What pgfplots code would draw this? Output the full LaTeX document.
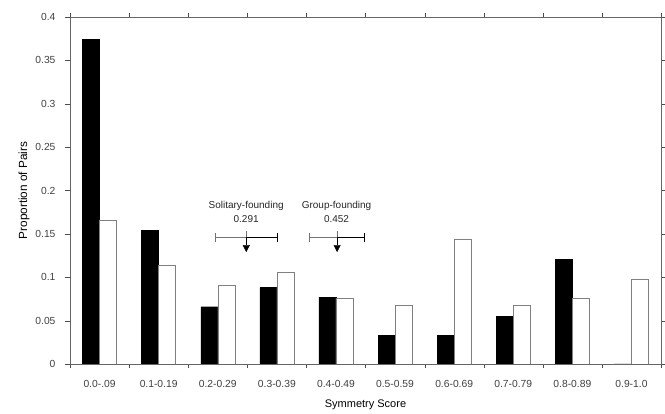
\documentclass[border=0pt]{standalone}
\usepackage{pgfplots}
\pgfplotsset{compat=1.18}
\usepackage{fontspec}
\setmainfont{Liberation Sans}
\usetikzlibrary{arrows.meta}

\begin{document}
\begin{tikzpicture}
\begin{axis}[
    scale only axis,
    width=591pt, height=347pt,
    ybar=0pt, bar width=17pt,
    xmin=-0.5, xmax=9.5,
    ymin=0, ymax=0.4,
    ytick={0,0.05,0.1,0.15,0.2,0.25,0.3,0.35,0.4},
    yticklabels={0,0.05,0.1,0.15,0.2,0.25,0.3,0.35,0.4},
    xtick=data,
    xticklabels={0.0-.09,0.1-0.19,0.2-0.29,0.3-0.39,0.4-0.49,0.5-0.59,0.6-0.69,0.7-0.79,0.8-0.89,0.9-1.0},
    minor xtick={-0.5,0.5,...,9.5},
    major x tick style={draw=none},
    tick align=outside,
    tick style={black!70},
    major tick length=5pt, minor tick length=4pt,
    axis line style={black!60},
    axis on top,
    ticklabel style={font=\fontsize{10.3}{12}\selectfont, text=black!75},
    xticklabel style={yshift=-8pt},
    yticklabel style={xshift=-6pt},
    xlabel={Symmetry Score},
    ylabel={Proportion of Pairs},
    xlabel style={font=\fontsize{11}{13}\selectfont, yshift=-5pt},
    ylabel style={font=\fontsize{11.8}{13}\selectfont, yshift=-1pt},
    clip=false,
]
% solitary-founding (black)
\addplot[fill=black, draw=black] coordinates {
 (0,0.374) (1,0.154) (2,0.066) (3,0.088) (4,0.077)
 (5,0.033) (6,0.033) (7,0.055) (8,0.121) (9,0)};
% group-founding (white)
\addplot[fill=white, draw=black!50] coordinates {
 (0,0.166) (1,0.114) (2,0.091) (3,0.106) (4,0.076)
 (5,0.068) (6,0.144) (7,0.068) (8,0.076) (9,0.098)};

\draw[black] (axis cs:-0.5,0) -- (axis cs:9.5,0);

% annotations
\node[font=\fontsize{10}{13.5}\selectfont, align=center, text=black!85]
  at (axis cs:2.48,0.1755) {Solitary-founding\\0.291};
\draw[black!55] (axis cs:1.958,0.146) -- (axis cs:2.483,0.146);
\draw[black] (axis cs:2.483,0.146) -- (axis cs:3.003,0.146);
\draw[black!55] (axis cs:1.958,0.141) -- (axis cs:1.958,0.151);
\draw[black] (axis cs:3.003,0.141) -- (axis cs:3.003,0.151);
\draw[black!55] (axis cs:2.483,0.153) -- (axis cs:2.483,0.146);
\draw[black, -{Triangle[width=7pt,length=7pt]}] (axis cs:2.483,0.146) -- (axis cs:2.483,0.129);

\node[font=\fontsize{10}{13.5}\selectfont, align=center, text=black!85]
  at (axis cs:4.01,0.1755) {Group-founding\\0.452};
\draw[black!55] (axis cs:3.54,0.146) -- (axis cs:4.02,0.146);
\draw[black] (axis cs:4.02,0.146) -- (axis cs:4.47,0.146);
\draw[black!55] (axis cs:3.54,0.141) -- (axis cs:3.54,0.151);
\draw[black] (axis cs:4.47,0.141) -- (axis cs:4.47,0.151);
\draw[black!55] (axis cs:4.02,0.153) -- (axis cs:4.02,0.146);
\draw[black, -{Triangle[width=7pt,length=7pt]}] (axis cs:4.02,0.146) -- (axis cs:4.02,0.129);

\coordinate (ll) at (rel axis cs:0,0);
\coordinate (ur) at (rel axis cs:1,1);
\end{axis}
\pgfresetboundingbox
\path ([shift={(-70pt,-50pt)}]ll) rectangle ([shift={(4pt,17pt)}]ur);
\end{tikzpicture}
\end{document}
